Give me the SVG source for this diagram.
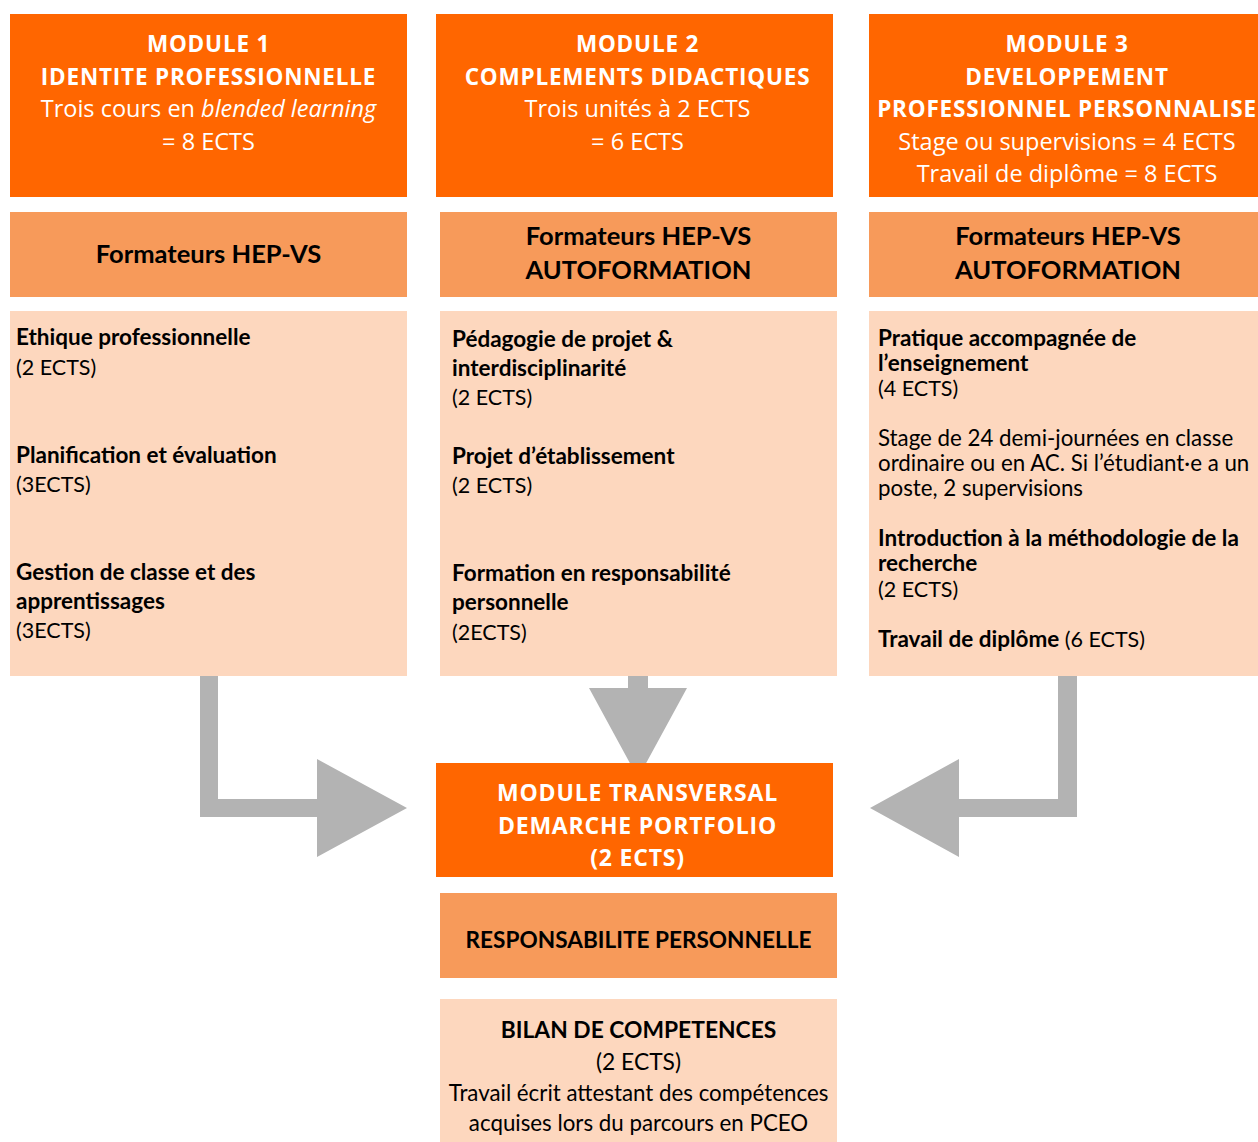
<svg xmlns="http://www.w3.org/2000/svg" width="1258" height="1142" viewBox="0 0 1258 1142">
<style>
.dk{fill:#ff6600}
.md{fill:#f79a5a}
.lt{fill:#fdd7be}
.arr{fill:#b3b3b3}
.hw{font-family:"Open Sans","Liberation Sans",sans-serif;fill:#ffffff;text-anchor:middle}
.hb{font-weight:bold;font-size:22.5px;letter-spacing:0.8px}
.hr{font-size:23.5px}
.bk{font-family:Lato,"Liberation Sans",sans-serif;fill:#000000}
.t2{font-size:25.5px;font-weight:bold;text-anchor:middle}
.b{font-size:22.5px;font-weight:bold}
.r{font-size:21.5px}
.r2{font-size:22.3px}
</style>
<rect width="1258" height="1142" fill="#ffffff"/>
<g id="connectors">
<path class="arr" d="M200,676 H218 V799 H317 V759 L407,808 L317,857 V817 H200 Z"/>
<path class="arr" d="M628,676 H648 V688 H687 L638,778 L589,688 H628 Z"/>
<path class="arr" d="M1077,676 H1058 V799 H959 V759 L870,808 L959,857 V817 H1077 Z"/>
</g>
<g id="module1">
<rect class="dk" x="10" y="14" width="397" height="183"/>
<text class="hw hb" x="208.5" y="52">MODULE 1</text>
<text class="hw hb" x="208.5" y="85">IDENTITE PROFESSIONNELLE</text>
<text class="hw hr" x="208.5" y="117">Trois cours en <tspan font-style="italic">blended learning</tspan></text>
<text class="hw hr" x="208.5" y="150">= 8 ECTS</text>
</g>
<g id="module2">
<rect class="dk" x="436" y="14" width="397" height="183"/>
<text class="hw hb" x="637.5" y="52">MODULE 2</text>
<text class="hw hb" x="637.5" y="85">COMPLEMENTS DIDACTIQUES</text>
<text class="hw hr" x="637.5" y="117">Trois unités à 2 ECTS</text>
<text class="hw hr" x="637.5" y="150">= 6 ECTS</text>
</g>
<g id="module3">
<rect class="dk" x="869" y="14" width="389" height="183"/>
<text class="hw hb" x="1067" y="52">MODULE 3</text>
<text class="hw hb" x="1067" y="85">DEVELOPPEMENT</text>
<text class="hw hb" x="1067" y="117">PROFESSIONNEL PERSONNALISE</text>
<text class="hw hr" x="1067" y="150">Stage ou supervisions = 4 ECTS</text>
<text class="hw hr" x="1067" y="182">Travail de diplôme = 8 ECTS</text>
</g>
<g id="formateurs1">
<rect class="md" x="10" y="212" width="397" height="85"/>
<text class="bk t2" x="208.5" y="263">Formateurs HEP-VS</text>
</g>
<g id="formateurs2">
<rect class="md" x="440" y="212" width="397" height="85"/>
<text class="bk t2" x="638.5" y="245">Formateurs HEP-VS</text>
<text class="bk t2" x="638.5" y="279">AUTOFORMATION</text>
</g>
<g id="formateurs3">
<rect class="md" x="869" y="212" width="389" height="85"/>
<text class="bk t2" x="1068" y="245">Formateurs HEP-VS</text>
<text class="bk t2" x="1068" y="279">AUTOFORMATION</text>
</g>
<g id="cours1">
<rect class="lt" x="10" y="311" width="397" height="365"/>
<text class="bk b" x="16" y="345">Ethique professionnelle</text>
<text class="bk r" x="16" y="375">(2 ECTS)</text>
<text class="bk b" x="16" y="463">Planification et évaluation</text>
<text class="bk r" x="16" y="492">(3ECTS)</text>
<text class="bk b" x="16" y="580">Gestion de classe et des</text>
<text class="bk b" x="16" y="609">apprentissages</text>
<text class="bk r" x="16" y="638">(3ECTS)</text>
</g>
<g id="cours2">
<rect class="lt" x="440" y="311" width="397" height="365"/>
<text class="bk b" x="452" y="347">Pédagogie de projet &amp;</text>
<text class="bk b" x="452" y="376">interdisciplinarité</text>
<text class="bk r" x="452" y="405">(2 ECTS)</text>
<text class="bk b" x="452" y="464">Projet d’établissement</text>
<text class="bk r" x="452" y="493">(2 ECTS)</text>
<text class="bk b" x="452" y="581">Formation en responsabilité</text>
<text class="bk b" x="452" y="610">personnelle</text>
<text class="bk r" x="452" y="640">(2ECTS)</text>
</g>
<g id="cours3">
<rect class="lt" x="869" y="311" width="389" height="365"/>
<text class="bk b" x="878" y="346">Pratique accompagnée de</text>
<text class="bk b" x="878" y="371">l’enseignement</text>
<text class="bk r" x="878" y="396">(4 ECTS)</text>
<text class="bk r2" x="878" y="446">Stage de 24 demi-journées en classe</text>
<text class="bk r2" x="878" y="471">ordinaire ou en AC. Si l’étudiant·e a un</text>
<text class="bk r2" x="878" y="496">poste, 2 supervisions</text>
<text class="bk b" x="878" y="546">Introduction à la méthodologie de la</text>
<text class="bk b" x="878" y="571">recherche</text>
<text class="bk r" x="878" y="597">(2 ECTS)</text>
<text class="bk b" x="878" y="647">Travail de diplôme <tspan style="font-weight:normal;font-size:21.5px">(6 ECTS)</tspan></text>
</g>
<g id="transversal">
<rect class="dk" x="436" y="763" width="397" height="114"/>
<text class="hw hb" x="637.5" y="801" style="font-size:23px">MODULE TRANSVERSAL</text>
<text class="hw hb" x="637.5" y="834" style="font-size:23px">DEMARCHE PORTFOLIO</text>
<text class="hw hb" x="637.5" y="866" style="font-size:23px">(2 ECTS)</text>
</g>
<g id="responsabilite">
<rect class="md" x="440" y="893" width="397" height="85"/>
<text class="bk t2" x="638.5" y="948" style="font-size:22.6px">RESPONSABILITE PERSONNELLE</text>
</g>
<g id="bilan">
<rect class="lt" x="440" y="999" width="397" height="143"/>
<text class="bk t2" x="638.5" y="1038" style="font-size:22.8px">BILAN DE COMPETENCES</text>
<text class="bk" x="638.5" y="1070" style="font-size:22.8px;text-anchor:middle">(2 ECTS)</text>
<text class="bk r2" x="638.5" y="1101" style="text-anchor:middle">Travail écrit attestant des compétences</text>
<text class="bk r2" x="638.5" y="1131" style="text-anchor:middle">acquises lors du parcours en PCEO</text>
</g>
</svg>
